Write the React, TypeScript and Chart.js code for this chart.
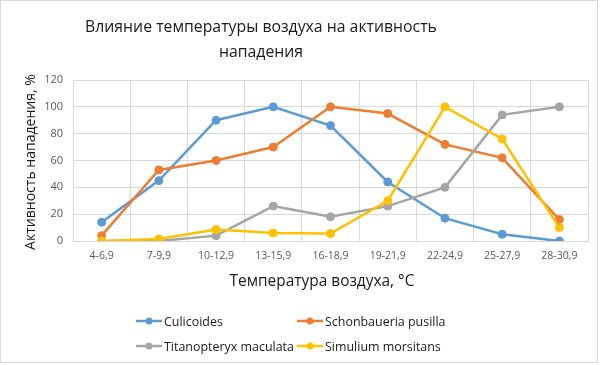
import React, { useEffect, useRef } from "react";
import { Chart, registerables } from "chart.js";

Chart.register(...registerables);

const categories = ["4-6,9", "7-9,9", "10-12,9", "13-15,9", "16-18,9", "19-21,9", "22-24,9", "25-27,9", "28-30,9"];
const culicoides = [14, 45, 90, 100, 86, 44, 17, 5, 0];
const schonbaueria = [4, 53, 60, 70, 100, 95, 72, 62, 16];
const titanopteryx = [0, 0, 4, 26, 18, 26, 40, 94, 100];
const simulium = [0, 1.5, 8.5, 6, 5.5, 30, 100, 76, 10];
const seriesNames = ["Culicoides", "Schonbaueria pusilla", "Titanopteryx maculata", "Simulium morsitans"];
const seriesColors = ["#5B9BD5", "#ED7D31", "#A5A5A5", "#FFC000"];
const titleLines = ["Влияние температуры воздуха на активность", "нападения"];
const xTitle = "Температура воздуха, °C";
const yTitle = "Активность нападения, %";

const FAMILY = "'Open Sans', 'Noto Sans', sans-serif";

function fitSize(ctx: CanvasRenderingContext2D, text: string, target: number, base: number) {
  ctx.font = `${base}px ${FAMILY}`;
  const w = ctx.measureText(text).width;
  return (base * target) / w;
}

const overlay = {
  id: "overlay",
  beforeDraw(chart: any) {
    const ctx = chart.ctx as CanvasRenderingContext2D;
    ctx.save();
    ctx.fillStyle = "#ffffff";
    ctx.fillRect(0, 0, chart.width, chart.height);
    ctx.strokeStyle = "#d9d9d9";
    ctx.lineWidth = 1;
    ctx.strokeRect(0.5, 0.5, 597, 362);
    ctx.restore();
  },
  afterDraw(chart: any) {
    const ctx = chart.ctx as CanvasRenderingContext2D;
    ctx.save();
    ctx.textAlign = "center";
    ctx.textBaseline = "middle";
    ctx.fillStyle = "#1a1a1a";
    const ts = fitSize(ctx, titleLines[0], 352, 20);
    ctx.font = `${ts}px ${FAMILY}`;
    ctx.fillText(titleLines[0], 261, 27);
    ctx.fillText(titleLines[1], 261, 52);

    const xs = fitSize(ctx, xTitle, 185, 16);
    ctx.font = `${xs}px ${FAMILY}`;
    ctx.fillText(xTitle, 322, 282);

    const ys = fitSize(ctx, yTitle, 176, 16);
    ctx.save();
    ctx.translate(31, 162);
    ctx.rotate(-Math.PI / 2);
    ctx.font = `${ys}px ${FAMILY}`;
    ctx.fillText(yTitle, 0, 0);
    ctx.restore();

    // legend
    const pos = [
      [136, 321],
      [297, 321],
      [136, 346],
      [297, 346],
    ];
    const ls = fitSize(ctx, seriesNames[2], 130, 13);
    ctx.font = `${ls}px ${FAMILY}`;
    ctx.textAlign = "left";
    chart.data.datasets.forEach((ds: any, i: number) => {
      const [x, y] = pos[i];
      ctx.strokeStyle = ds.borderColor;
      ctx.lineWidth = 2.5;
      ctx.beginPath();
      ctx.moveTo(x, y);
      ctx.lineTo(x + 26, y);
      ctx.stroke();
      ctx.fillStyle = ds.backgroundColor;
      ctx.beginPath();
      ctx.arc(x + 13, y, 3.5, 0, Math.PI * 2);
      ctx.fill();
      ctx.fillStyle = "#1a1a1a";
      ctx.fillText(ds.label, x + 28, y + 1);
    });
    ctx.restore();
  },
};

export default function App() {
  const ref = useRef<HTMLCanvasElement>(null);
  useEffect(() => {
    if (!ref.current) return;
    const seriesData = [culicoides, schonbaueria, titanopteryx, simulium];
    const chart = new Chart(ref.current, {
      type: "line",
      data: {
        labels: categories,
        datasets: seriesData.map((d, i) => ({
          label: seriesNames[i],
          data: d,
          borderColor: seriesColors[i],
          backgroundColor: seriesColors[i],
          pointBackgroundColor: seriesColors[i],
          pointBorderColor: seriesColors[i],
          pointRadius: 4,
          pointBorderWidth: 1,
          borderWidth: 2.5,
          tension: 0,
          order: 3 - i,
        })),
      },
      options: {
        animation: false,
        responsive: false,
        layout: { padding: { top: 80, right: 15, left: 0, bottom: 0 } },
        plugins: { legend: { display: false }, title: { display: false }, tooltip: { enabled: false } },
        scales: {
          x: {
            offset: true,
            grid: { offset: true, color: "#d9d9d9", drawTicks: false },
            border: { color: "#d9d9d9" },
            ticks: { padding: 9, color: "#595959", font: { family: FAMILY, size: 10.5 }, maxRotation: 0, autoSkip: false },
            afterFit: (s: any) => {
              s.height = 124;
            },
          },
          y: {
            min: 0,
            max: 120,
            grid: { color: "#d9d9d9", drawTicks: false },
            border: { color: "#d9d9d9" },
            ticks: { stepSize: 20, padding: 10, color: "#595959", font: { family: FAMILY, size: 11 } },
            afterFit: (s: any) => {
              s.width = 73;
            },
          },
        },
      },
      plugins: [overlay],
    });
    return () => chart.destroy();
  }, []);
  return (
    <div style={{ position: "fixed", left: 0, top: 0, width: 603, height: 365 }}>
      <canvas ref={ref} width={603} height={365} style={{ width: 603, height: 365, display: "block" }} />
    </div>
  );
}
